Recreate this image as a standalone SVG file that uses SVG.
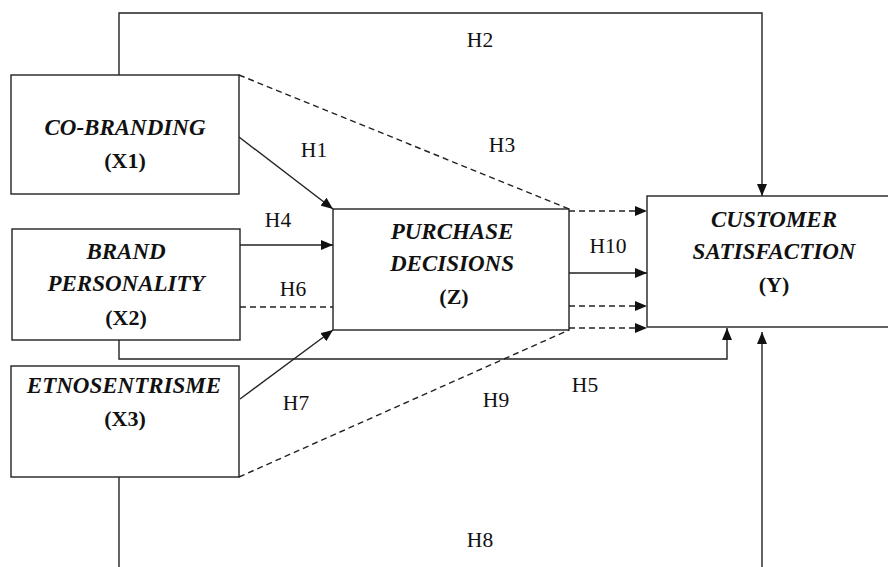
<svg xmlns="http://www.w3.org/2000/svg" width="888" height="567" viewBox="0 0 888 567">
  <style>
    .box { fill: #fff; stroke: #222; stroke-width: 1.4; }
    .name { font-family: "Liberation Serif", "Times New Roman", serif; font-size: 23px; font-weight: bold; font-style: italic; fill: #111; text-anchor: middle; }
    .code { font-family: "Liberation Serif", "Times New Roman", serif; font-size: 22px; font-weight: bold; fill: #111; text-anchor: middle; }
    .lbl { font-family: "Liberation Serif", "Times New Roman", serif; font-size: 21.5px; fill: #111; text-anchor: middle; }
    .ln { fill: none; stroke: #222; stroke-width: 1.4; }
    .dash { stroke-dasharray: 6 4; }
  </style>
  <defs>
    <marker id="arrow" viewBox="0 0 12 10" refX="12" refY="5" markerWidth="12" markerHeight="10" markerUnits="userSpaceOnUse" orient="auto">
      <path d="M0,0 L12,5 L0,10 Z" fill="#111"/>
    </marker>
  </defs>

  <!-- connectors -->
  <g id="connectors">
    <!-- H2: X1 to Y over the top -->
    <path class="ln" d="M119,75 V13 H762 V196" marker-end="url(#arrow)"/>
    <!-- H1 -->
    <line class="ln" x1="239" y1="137" x2="333" y2="209" marker-end="url(#arrow)"/>
    <!-- H3 (mediated, dashed) -->
    <line class="ln dash" x1="239" y1="75" x2="569" y2="209"/>
    <line class="ln dash" x1="569" y1="211" x2="647" y2="211" marker-end="url(#arrow)"/>
    <!-- H4 -->
    <line class="ln" x1="240" y1="245" x2="333" y2="245" marker-end="url(#arrow)"/>
    <!-- H6 (mediated, dashed) -->
    <line class="ln dash" x1="240" y1="307" x2="333" y2="307"/>
    <line class="ln dash" x1="569" y1="306" x2="647" y2="306" marker-end="url(#arrow)"/>
    <!-- H10 -->
    <line class="ln" x1="569" y1="273" x2="647" y2="273" marker-end="url(#arrow)"/>
    <!-- H5: X2 to Y underneath -->
    <path class="ln" d="M119,340 V359 H727 V328" marker-end="url(#arrow)"/>
    <!-- H7 -->
    <line class="ln" x1="240" y1="399" x2="333" y2="330" marker-end="url(#arrow)"/>
    <!-- H9 (mediated, dashed) -->
    <line class="ln dash" x1="239" y1="477" x2="569" y2="330"/>
    <line class="ln dash" x1="569" y1="328" x2="647" y2="328" marker-end="url(#arrow)"/>
    <!-- H8: X3 to Y along the bottom -->
    <line class="ln" x1="119" y1="477" x2="119" y2="570"/>
    <line class="ln" x1="762" y1="570" x2="762" y2="332" marker-end="url(#arrow)"/>
  </g>

  <!-- hypothesis labels -->
  <g id="labels">
    <text class="lbl" x="480" y="47">H2</text>
    <text class="lbl" x="314" y="157">H1</text>
    <text class="lbl" x="502" y="152">H3</text>
    <text class="lbl" x="278" y="227">H4</text>
    <text class="lbl" x="293" y="296">H6</text>
    <text class="lbl" x="608" y="253">H10</text>
    <text class="lbl" x="585" y="392">H5</text>
    <text class="lbl" x="296" y="410">H7</text>
    <text class="lbl" x="496" y="407">H9</text>
    <text class="lbl" x="480" y="547">H8</text>
  </g>

  <!-- nodes -->
  <g id="x1">
    <rect class="box" x="11" y="75" width="228" height="119"/>
    <text class="name" x="125" y="135">CO-BRANDING</text>
    <text class="code" x="125" y="168">(X1)</text>
  </g>
  <g id="x2">
    <rect class="box" x="12" y="229" width="228" height="111"/>
    <text class="name" x="126" y="259">BRAND</text>
    <text class="name" x="126" y="291">PERSONALITY</text>
    <text class="code" x="126" y="325">(X2)</text>
  </g>
  <g id="x3">
    <rect class="box" x="11" y="366" width="228" height="111"/>
    <text class="name" x="124" y="393">ETNOSENTRISME</text>
    <text class="code" x="125" y="426">(X3)</text>
  </g>
  <g id="z">
    <rect class="box" x="333" y="209" width="236" height="121"/>
    <text class="name" x="452" y="239">PURCHASE</text>
    <text class="name" x="452" y="271">DECISIONS</text>
    <text class="code" x="454" y="304">(Z)</text>
  </g>
  <g id="y">
    <rect class="box" x="647" y="196" width="250" height="131"/>
    <text class="name" x="774" y="227">CUSTOMER</text>
    <text class="name" x="774" y="259">SATISFACTION</text>
    <text class="code" x="774" y="292">(Y)</text>
  </g>
</svg>
